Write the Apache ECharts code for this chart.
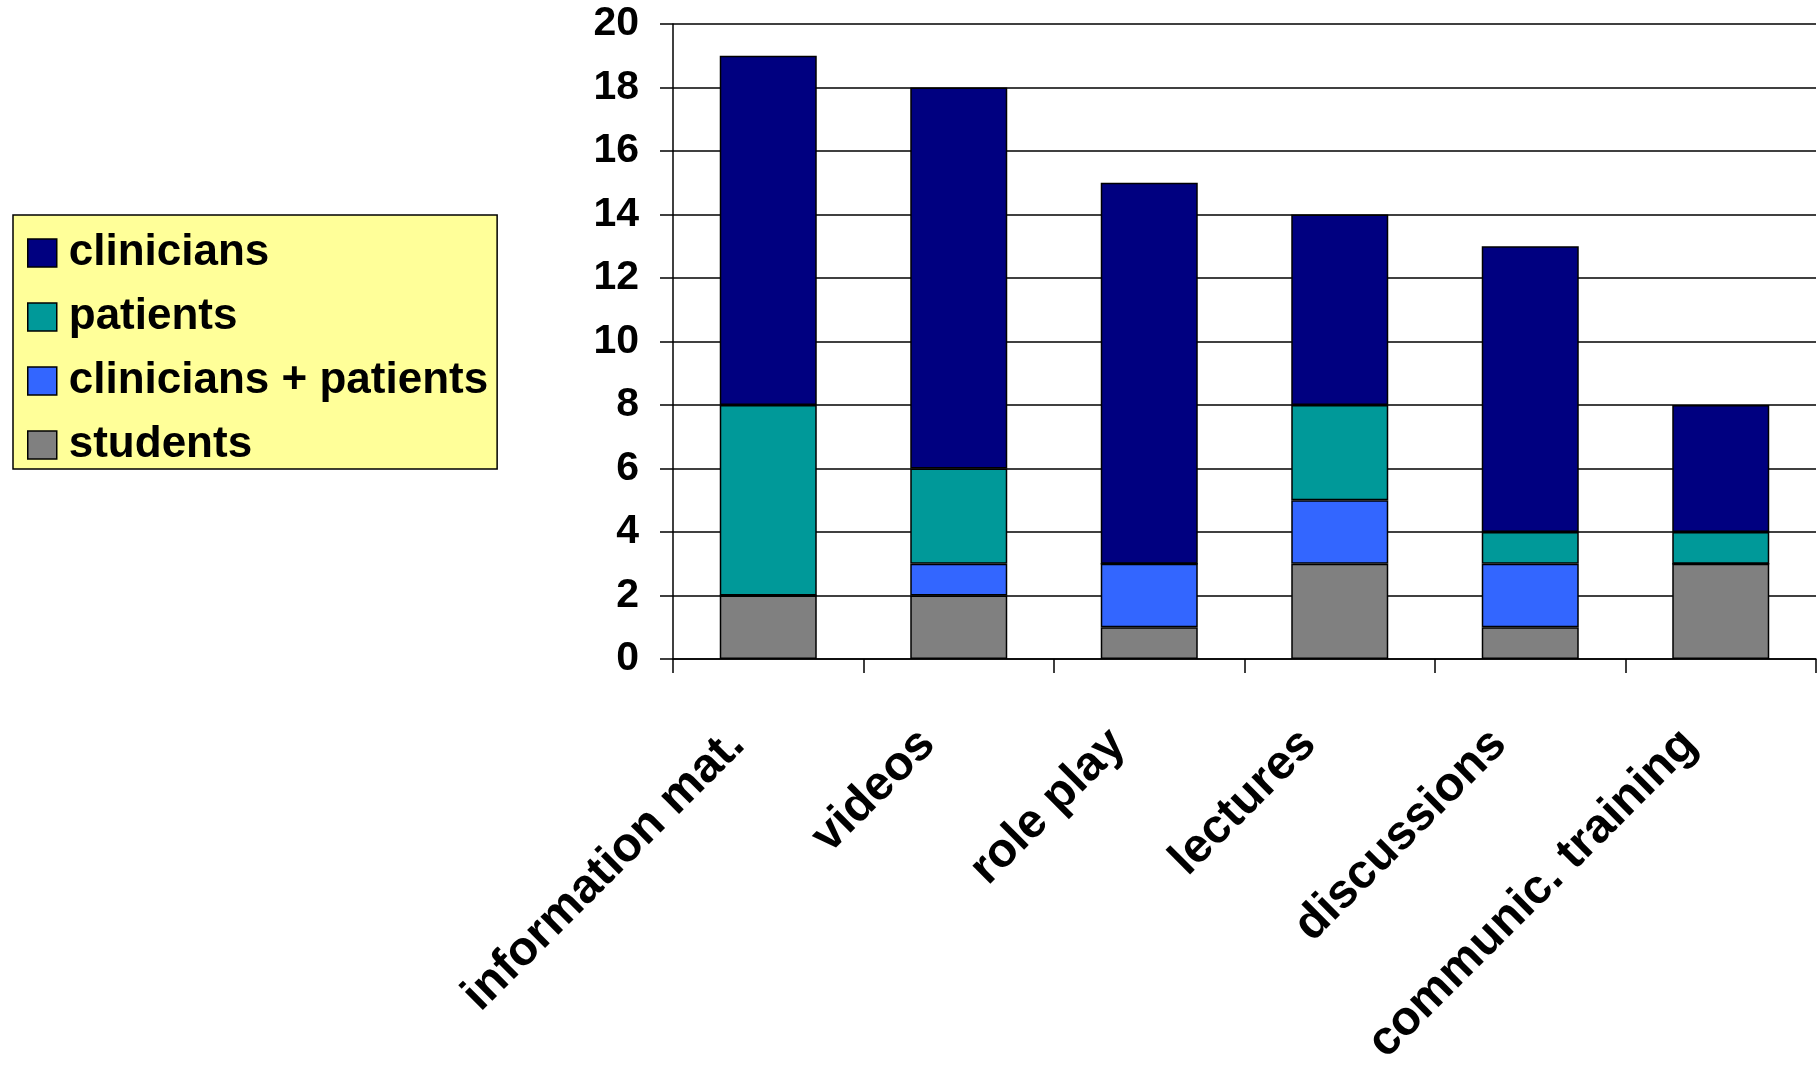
<!DOCTYPE html>
<html>
<head>
<meta charset="utf-8">
<script src="https://cdn.jsdelivr.net/npm/echarts@6/dist/echarts.min.js"></script>
<style>
html,body{margin:0;padding:0;background:#fff;}
#chart{width:1818px;height:1070px;}
</style>
</head>
<body>
<div id="chart"></div>
<script>
const categories = ["information mat.", "videos", "role play", "lectures", "discussions", "communic. training"];
const students = [2, 2, 1, 3, 1, 3];
const cliniciansPatients = [0, 1, 2, 2, 2, 0];
const patients = [6, 3, 0, 3, 1, 1];
const clinicians = [11, 12, 12, 6, 9, 4];
const yTicks = {min: 0, max: 20, interval: 2};
const legendOrder = ["clinicians", "patients", "clinicians + patients", "students"];

const FONT = "Liberation Sans, Arial, sans-serif";
const chart = echarts.init(document.getElementById('chart'));

function bar(name, data, color) {
  return {
    name: name, type: 'bar', stack: 'total', data: data, barWidth: 97,
    itemStyle: {color: color, borderColor: '#000', borderWidth: 1.5},
    emphasis: {disabled: true}
  };
}

chart.setOption({
  animation: false,
  backgroundColor: '#fff',
  grid: {left: 673, right: 2, top: 24, bottom: 411, containLabel: false, outerBoundsMode: 'none'},
  legend: {
    orient: 'vertical', left: 13, top: 215,
    data: legendOrder,
    icon: 'rect',
    backgroundColor: '#FFFF99', borderColor: '#000', borderWidth: 1.5,
    padding: [16, 9, 2, 14],
    itemWidth: 29, itemHeight: 28, itemGap: 20,
    itemStyle: {borderColor: '#000', borderWidth: 1.5},
    textStyle: {fontFamily: FONT, fontWeight: 'bold', fontSize: 44, color: '#000', padding: [0, 0, 0, 7]},
    selectedMode: false
  },
  xAxis: {
    type: 'category', data: categories,
    axisLine: {lineStyle: {color: '#000', width: 1.5}},
    axisTick: {show: true, length: 14, lineStyle: {color: '#000', width: 1.5}},
    axisLabel: {rotate: 45, interval: 0, margin: 47, padding: [0, 44, 0, 0], fontFamily: FONT, fontWeight: 'bold', fontSize: 48, color: '#000'}
  },
  yAxis: {
    type: 'value', min: yTicks.min, max: yTicks.max, interval: yTicks.interval,
    axisLine: {show: true, lineStyle: {color: '#000', width: 1.5}},
    axisTick: {show: true, length: 13, lineStyle: {color: '#000', width: 1.5}},
    splitLine: {show: true, lineStyle: {color: '#000', width: 1.5}},
    axisLabel: {margin: 34, fontFamily: FONT, fontWeight: 'bold', fontSize: 41, color: '#000'}
  },
  series: [
    bar('students', students, '#808080'),
    bar('clinicians + patients', cliniciansPatients, '#3366FF'),
    bar('patients', patients, '#009999'),
    bar('clinicians', clinicians, '#000080')
  ]
});
</script>
</body>
</html>
